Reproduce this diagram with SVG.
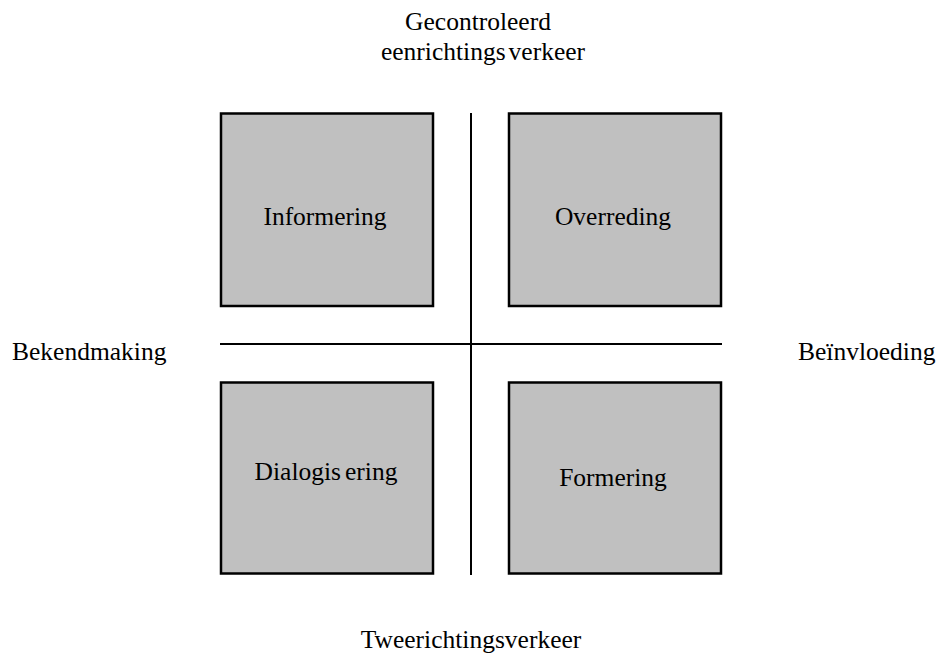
<svg xmlns="http://www.w3.org/2000/svg" width="941" height="653" viewBox="0 0 941 653">
<style>
.box{fill:#c0c0c0;stroke:#000;stroke-width:2.5}
.ln{stroke:#000;stroke-width:2;fill:none}
text{font-family:"Liberation Serif","Times New Roman",serif;font-size:25.5px;fill:#000}
.m{text-anchor:middle}
</style>
<rect width="941" height="653" fill="#fff"/>
<g id="connectors">
<line class="ln" x1="471" y1="113" x2="471" y2="575"/>
<line class="ln" x1="220" y1="344" x2="722" y2="344"/>
</g>
<g id="informering"><rect class="box" x="221" y="113.5" width="212" height="192.5"/><text class="m" x="325" y="225">Informering</text></g>
<g id="overreding"><rect class="box" x="509" y="113.5" width="212" height="192.5"/><text class="m" x="613" y="225">Overreding</text></g>
<g id="dialogisering"><rect class="box" x="221" y="382.5" width="212" height="191"/><text class="m" x="326" y="480">Dialogis<tspan dx="4">ering</tspan></text></g>
<g id="formering"><rect class="box" x="509" y="382.5" width="212" height="191"/><text class="m" x="613" y="486">Formering</text></g>
<g id="top-label"><text class="m" x="478" y="30">Gecontroleerd</text><text class="m" x="483" y="60">eenrichtings<tspan dx="3">verkeer</tspan></text></g>
<g id="left-label"><text x="12" y="360">Bekendmaking</text></g>
<g id="right-label"><text x="798" y="360">Beïnvloeding</text></g>
<g id="bottom-label"><text class="m" x="471" y="648">Tweerichtingsverkeer</text></g>
</svg>
